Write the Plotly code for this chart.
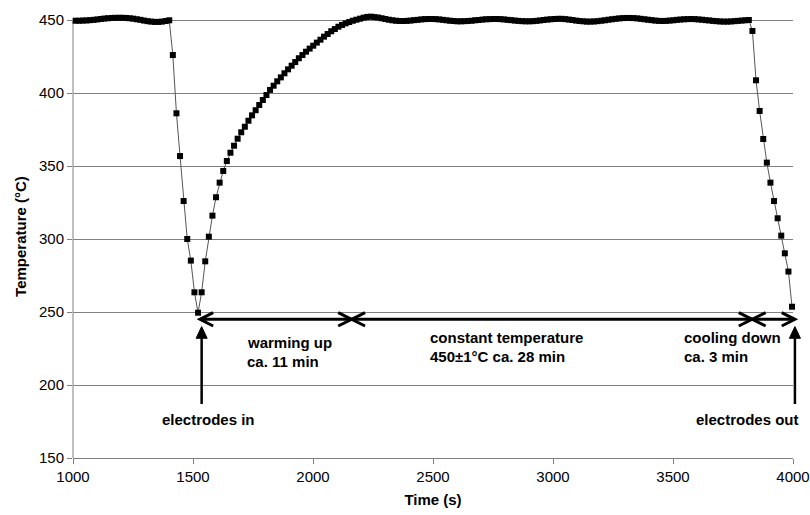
import numpy as np
import plotly.graph_objects as go

# Sample times: one reading every 15 s
time_s = np.arange(1011, 4000, 15)

# Temperature readings (°C)
flat_start = [449.5, 449.5, 449.6, 449.7, 449.9, 450.1, 450.4, 450.7, 451.0, 451.2,
              451.4, 451.5, 451.5, 451.5, 451.4, 451.2, 450.9, 450.5, 450.1, 449.6,
              449.2, 448.9, 448.7, 448.7, 448.9, 449.3, 449.8]
drop_in = [426.0, 386.1, 356.8, 326.0, 300.0, 285.2, 263.5, 249.5]
warm_up = [263.5, 284.7, 301.6, 316.0, 328.6, 338.6,
           346.6, 353.4, 359.1, 363.9, 368.7, 373.1, 376.9, 381.0, 384.7, 388.2,
           391.8, 395.2, 398.6, 402.1, 405.0, 408.0, 410.7, 413.5, 416.2, 418.7,
           421.2, 423.8, 426.0, 428.3, 430.4, 432.4, 434.5, 436.5, 438.6, 440.4,
           442.3, 443.8, 445.4, 446.6, 447.7, 448.6, 449.5, 450.2, 450.9, 451.6,
           452.1, 452.3]
constant = [452.0, 451.7, 451.2, 450.7, 450.2, 449.8, 449.5, 449.3,
            449.3, 449.4, 449.6, 449.9, 450.1, 450.4, 450.6, 450.7,
            450.7, 450.6, 450.4, 450.1, 449.8, 449.5, 449.3, 449.1, 449.1,
            449.2, 449.3, 449.5, 449.8, 450.0, 450.3, 450.5, 450.6, 450.7, 450.7,
            450.6, 450.4, 450.1, 449.9, 449.6, 449.4, 449.2, 449.1, 449.1,
            449.2, 449.4, 449.7, 450.0, 450.3, 450.5, 450.7, 450.8,
            450.8, 450.6, 450.3, 450.0, 449.6, 449.3, 449.1, 448.9, 448.9,
            449.0, 449.2, 449.5, 449.8, 450.2, 450.5, 450.8, 451.1, 451.3, 451.4, 451.4,
            451.3, 451.1, 450.8, 450.5, 450.2, 449.9, 449.6, 449.4, 449.3,
            449.4, 449.6, 449.8, 450.1, 450.3, 450.5, 450.6, 450.7,
            450.6, 450.4, 450.2, 449.9, 449.7, 449.4, 449.2, 449.0, 448.9, 448.9,
            449.0, 449.2, 449.4, 449.6, 449.8, 450.0]
cool_down = [442.5, 408.7, 387.7, 368.5, 352.3, 338.6, 326.0, 314.2, 302.3,
             290.2, 277.7, 253.6]

temperature = flat_start + drop_in + warm_up + constant + cool_down
assert len(temperature) == len(time_s)

# Phase boundaries (s) and annotation level (°C)
t_in, t_warm_end, t_cool_start, t_out = 1529, 2161, 3830, 4008
t_in_arrow = 1536
phase_level = 245

y_ticks = [150, 200, 250, 300, 350, 400, 450]
x_ticks = [1000, 1500, 2000, 2500, 3000, 3500, 4000]

# a little headroom above the top gridline so readings just above 450 stay visible
x_range = [1000, 4000]
y_range = [150, 450 + 5 / 1.46]

FONT = "Arial, Liberation Sans, sans-serif"


def px(t):
    return (t - x_range[0]) / (x_range[1] - x_range[0])


def py(v):
    return (v - y_range[0]) / (y_range[1] - y_range[0])


fig = go.Figure()
fig.add_trace(go.Scatter(
    x=time_s, y=temperature, mode="lines+markers",
    line=dict(color="#555555", width=1),
    marker=dict(symbol="square", size=6, color="black"),
    cliponaxis=False, showlegend=False,
))

shapes = []
blk = dict(color="black", width=3)

# y axis line drawn from 150 to 450 only
shapes.append(dict(type="line", xref="paper", yref="paper", x0=0, x1=0,
                   y0=0, y1=py(450), line=dict(color="#808080", width=1),
                   layer="below"))

# horizontal double arrow spanning the phases
shapes.append(dict(type="line", xref="paper", yref="paper",
                   x0=px(t_in), x1=px(t_out), y0=py(phase_level), y1=py(phase_level),
                   line=blk))
arm_t, arm_v = 55, 4.6
for tip, sgn in [(t_in, 1), (t_out, -1)]:
    path = (f"M {px(tip + sgn * arm_t)},{py(phase_level + arm_v)} "
            f"L {px(tip)},{py(phase_level)} "
            f"L {px(tip + sgn * arm_t)},{py(phase_level - arm_v)}")
    shapes.append(dict(type="path", xref="paper", yref="paper", path=path, line=blk))

# crosses marking the phase boundaries
cx_t, cx_v = 56, 4.6
for c in [t_warm_end, t_cool_start]:
    for s in (1, -1):
        shapes.append(dict(type="line", xref="paper", yref="paper",
                           x0=px(c - cx_t), x1=px(c + cx_t),
                           y0=py(phase_level - s * cx_v), y1=py(phase_level + s * cx_v),
                           line=blk))

# vertical arrows for electrodes in / out
tip_v, base_v, tail_v = 240, 232, 187
for t in [t_in_arrow, t_out]:
    shapes.append(dict(type="line", xref="paper", yref="paper",
                       x0=px(t), x1=px(t), y0=py(tail_v), y1=py(base_v + 1),
                       line=dict(color="black", width=2.5)))
    tri = (f"M {px(t - 23)},{py(base_v)} L {px(t)},{py(tip_v)} "
           f"L {px(t + 23)},{py(base_v)} Z")
    shapes.append(dict(type="path", xref="paper", yref="paper", path=tri,
                       fillcolor="black", line=dict(color="black", width=1)))

annotations = []


def label(text, t, v, anchor="left"):
    annotations.append(dict(text=text, x=t, y=v, xref="x", yref="y",
                            xanchor=anchor, yanchor="middle", showarrow=False,
                            font=dict(family=FONT, size=15, color="black")))


label("<b>warming up</b>", 1717, 229)
label("<b>ca. 11 min</b>", 1717, 216)
label("<b>constant temperature</b>", 2479, 232.2)
label("<b>450±1°C ca. 28 min</b>", 2479, 219.2)
label("<b>cooling down</b>", 3537, 232.2)
label("<b>ca. 3 min</b>", 3537, 219.2)
label("<b>electrodes in</b>", 1565, 176.5, "center")
label("<b>electrodes out</b>", 3812, 176.5, "center")

fig.update_layout(
    width=810, height=515,
    margin=dict(l=73, r=17, t=15, b=57, autoexpand=False),
    paper_bgcolor="white", plot_bgcolor="white",
    font=dict(family=FONT, size=15, color="black"),
    shapes=shapes, annotations=annotations,
    showlegend=False,
)
fig.update_xaxes(
    range=x_range, tickvals=x_ticks, automargin=False,
    showgrid=False, showline=True, linecolor="#808080", linewidth=1,
    ticks="outside", ticklen=5, tickcolor="#808080",
    tickfont=dict(size=15), zeroline=False,
    title=dict(text="<b>Time (s)</b>", font=dict(size=15), standoff=10),
)
fig.update_yaxes(
    range=y_range, tickvals=y_ticks, automargin=False,
    showgrid=True, gridcolor="#808080", gridwidth=1,
    showline=False,
    ticks="outside", ticklen=5, tickcolor="#808080",
    tickfont=dict(size=15), zeroline=False,
    title=dict(text="<b>Temperature (°C)</b>", font=dict(size=15), standoff=8),
)

fig.write_html("out.html")
